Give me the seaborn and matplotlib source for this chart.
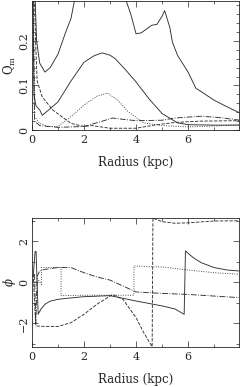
import numpy as np
import pandas as pd
import seaborn as sns
from matplotlib import pyplot as plt
from matplotlib.ticker import MultipleLocator

sns.set_style("ticks")
plt.rcParams['font.family'] = ['DejaVu Serif']
plt.rcParams['mathtext.fontset'] = 'dejavuserif'

# top panel: Q_m vs radius
qm_solid_hi_x = [0.04, 0.12, 0.18, 0.3, 0.5, 0.7, 1.0, 1.3, 1.5, 1.7, 3.5, 3.8, 4.0, 4.2, 4.6, 4.8, 5.0, 5.1, 5.3, 5.4, 5.6, 6.0, 6.3, 7.0, 7.5, 8.0]
qm_solid_hi_y = [0.35, 0.3, 0.2, 0.15, 0.13, 0.14, 0.17, 0.22, 0.25, 0.31, 0.31, 0.26, 0.216, 0.218, 0.235, 0.237, 0.255, 0.268, 0.23, 0.197, 0.167, 0.13, 0.094, 0.067, 0.052, 0.038]
qm_solid_lo_x = [0.03, 0.08, 0.15, 0.3, 0.4, 0.7, 1.0, 1.5, 2.0, 2.4, 2.7, 3.0, 3.2, 3.6, 4.0, 4.5, 5.0, 5.6, 6.0, 7.0, 8.0]
qm_solid_lo_y = [0.35, 0.08, 0.055, 0.045, 0.033, 0.048, 0.063, 0.11, 0.152, 0.167, 0.173, 0.168, 0.16, 0.135, 0.108, 0.07, 0.037, 0.016, 0.012, 0.011, 0.011]
qm_dotted_x = [0.05, 0.1, 0.3, 0.6, 1.0, 1.5, 2.0, 2.5, 2.9, 3.3, 3.7, 4.3, 5.0, 6.0, 7.0, 8.0]
qm_dotted_y = [0.3, 0.03, 0.015, 0.008, 0.008, 0.03, 0.056, 0.076, 0.083, 0.067, 0.041, 0.016, 0.01, 0.007, 0.009, 0.012]
qm_dashdot_x = [0.05, 0.1, 0.3, 1.0, 2.0, 2.6, 3.1, 3.5, 4.0, 5.0, 5.5, 6.5, 7.2, 8.0]
qm_dashdot_y = [0.3, 0.02, 0.01, 0.006, 0.008, 0.018, 0.027, 0.024, 0.021, 0.022, 0.027, 0.031, 0.028, 0.022]
qm_dashed_x = [0.08, 0.14, 0.2, 0.4, 0.8, 1.5, 2.0, 2.3, 3.0, 4.0, 4.8, 5.5, 6.5, 8.0]
qm_dashed_y = [0.35, 0.2, 0.11, 0.074, 0.045, 0.015, 0.008, 0.01, 0.004, 0.004, 0.012, 0.017, 0.02, 0.021]

# bottom panel: phase phi vs radius
phi_solid_x = [0.05, 0.12, 0.16, 0.24, 0.35, 0.5, 0.7, 1.0, 1.5, 2.0, 3.0, 4.0, 5.0, 5.5, 5.85, 5.9, 6.2, 6.5, 7.0, 7.5, 8.0]
phi_solid_y = [0.3, 1.5, 1.5, -1.56, -1.3, -1.07, -0.92, -0.83, -0.76, -0.7, -0.65, -0.91, -1.15, -1.3, -1.56, 1.53, 1.2, 0.96, 0.72, 0.6, 0.55]
phi_dashed_x = [0.05, 0.1, 0.15, 0.5, 1.0, 1.5, 2.0, 2.5, 3.1, 3.5, 4.0, 4.3, 4.62, 4.65, 4.8, 5.0, 5.5, 6.0, 7.0, 8.0]
phi_dashed_y = [0.4, -1.0, -2.13, -2.15, -2.15, -1.97, -1.56, -1.07, -0.59, -0.83, -1.72, -2.46, -3.14, 3.14, 3.05, 2.96, 2.88, 2.9, 2.99, 3.0]
phi_dashdot_x = [0.1, 0.15, 0.2, 0.3, 0.5, 1.0, 1.5, 2.0, 2.5, 3.0, 3.5, 4.0, 5.0, 6.0, 7.0, 8.0]
phi_dashdot_y = [0.4, -2.0, 0.3, 0.55, 0.63, 0.72, 0.72, 0.47, 0.26, 0.11, -0.18, -0.47, -0.54, -0.59, -0.67, -0.75]
phi_dotted_x = [0.2, 0.37, 0.37, 0.7, 1.12, 1.12, 2.0, 3.0, 3.92, 3.92, 4.5, 5.0, 6.0, 7.0, 8.0]
phi_dotted_y = [0.2, -0.1, 0.72, 0.72, 0.72, -0.65, -0.63, -0.63, -0.63, 0.8, 0.76, 0.75, 0.6, 0.47, 0.39]

top_lines = [(qm_solid_hi_x, qm_solid_hi_y, '-'), (qm_solid_lo_x, qm_solid_lo_y, '-'),
             (qm_dotted_x, qm_dotted_y, ':'), (qm_dashdot_x, qm_dashdot_y, '-.'),
             (qm_dashed_x, qm_dashed_y, '--')]
bot_lines = [(phi_solid_x, phi_solid_y, '-'), (phi_dashed_x, phi_dashed_y, '--'),
             (phi_dashdot_x, phi_dashdot_y, '-.'), (phi_dotted_x, phi_dotted_y, ':')]

fig = plt.figure(figsize=(2.4, 3.87), dpi=100)
ax1 = fig.add_axes([0.133, 0.664, 0.862, 0.334])
ax2 = fig.add_axes([0.133, 0.104, 0.862, 0.333])


def draw(ax, lines):
    for xs, ys, ls in lines:
        df = pd.DataFrame({'r': xs, 'v': ys})
        sns.lineplot(data=df, x='r', y='v', ax=ax, sort=False, estimator=None,
                     color='#303030', lw=0.65, linestyle=ls)
    ax.set_xlim(0, 7.95)
    ax.xaxis.set_major_locator(MultipleLocator(2))
    ax.xaxis.set_minor_locator(MultipleLocator(1))
    ax.tick_params(which='both', direction='in', top=True, right=True, labelsize=8, width=0.5)
    ax.tick_params(axis='y', pad=2)
    ax.tick_params(which='major', length=4)
    ax.tick_params(which='minor', length=2)
    for s in ax.spines.values():
        s.set_linewidth(0.6)
    ax.set_xlabel('Radius (kpc)', fontsize=8.5, labelpad=8)


draw(ax1, top_lines)
ax1.set_ylim(0, 0.29)
ax1.yaxis.set_minor_locator(MultipleLocator(0.02))
ax1.set_yticks([0, 0.1, 0.2])
ax1.set_yticklabels(['0', '0.1', '0.2'], rotation=90, va='center')
ax1.set_ylabel(r'$\mathrm{Q_m}$', fontsize=8.5, va='center')
ax1.yaxis.set_label_coords(-0.105, 0.5)

draw(ax2, bot_lines)
ax2.set_ylim(-np.pi, np.pi)
ax2.yaxis.set_minor_locator(MultipleLocator(1))
ax2.set_yticks([-2, 0, 2])
ax2.set_yticklabels(['\u22122', '0', '2'], rotation=90, va='center')
ax2.set_ylabel(r'$\phi$', fontsize=8.5, va='center')
ax2.yaxis.set_label_coords(-0.11, 0.5)

fig.savefig('out.png', dpi=100)
